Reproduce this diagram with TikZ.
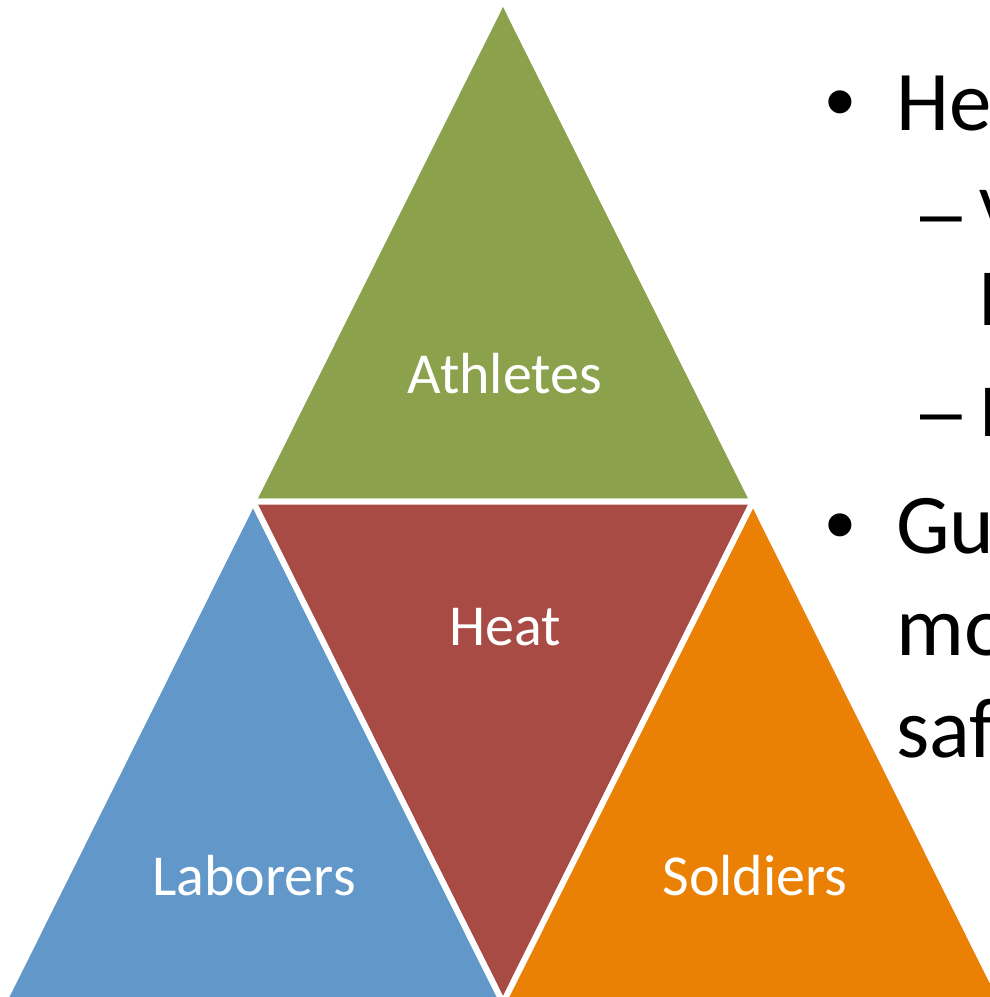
\documentclass[tikz,border=0pt]{standalone}
\usepackage{fontspec}
\setmainfont{Carlito}
\newfontfamily\arialfont{Liberation Sans}
\definecolor{pgreen}{HTML}{8BA14B}
\definecolor{pred}{HTML}{A84B45}
\definecolor{pblue}{HTML}{6297C9}
\definecolor{porange}{HTML}{EB8104}
\begin{document}
\begin{tikzpicture}[x=1pt,y=-1pt,
  seg/.style={draw=white,line width=6pt,line join=miter},
  lbl/.style={text=white,font=\fontsize{58}{70}\selectfont,anchor=base,inner sep=0pt},
  bodytxt/.style={font=\fontsize{85}{102}\selectfont,anchor=base west,inner sep=0pt},
  subtxt/.style={font=\fontsize{75}{90}\selectfont,anchor=base west,inner sep=0pt},
  bul/.style={font=\arialfont\fontsize{85}{102}\selectfont,anchor=base,inner sep=0pt},
  subbul/.style={font=\arialfont\fontsize{75}{90}\selectfont,anchor=base west,inner sep=0pt}]
\useasboundingbox (0,0) rectangle (990,997);
\clip (0,0) rectangle (990,997);
\fill[white] (0,0) rectangle (990,997);
\coordinate (A) at (503,0);
\coordinate (L) at (253,501.5);
\coordinate (R) at (753,501.5);
\coordinate (BL) at (3,1003);
\coordinate (BM) at (503,1003);
\coordinate (BR) at (1003,1003);
\filldraw[seg,fill=pgreen] (A) -- (R) -- (L) -- cycle;
\filldraw[seg,fill=pred] (L) -- (R) -- (BM) -- cycle;
\filldraw[seg,fill=pblue] (L) -- (BM) -- (BL) -- cycle;
\filldraw[seg,fill=porange] (R) -- (BR) -- (BM) -- cycle;
\node[lbl] (athletes) at (505,393) {Athletes};
\node[lbl] (heat) at (505,645) {Heat};
\node[lbl] (laborers) at (254,895) {Laborers};
\node[lbl] (soldiers) at (755,895) {Soldiers};
% right-hand text (clipped at the picture edge)
\node[bul] (b1) at (840,130) {•};
\node[bodytxt] (t1) at (896,130) {He};
\node[subbul] (d1) at (920,238) {–};
\node[subtxt] (s1) at (979,238) {V};
\node[subtxt] (s2) at (979,325) {l};
\node[subbul] (d2) at (920,436) {–};
\node[subtxt] (s3) at (979,436) {I};
\node[bul] (b2) at (840,553) {•};
\node[bodytxt] (t2) at (896,553) {Gu};
\node[bodytxt] (t3) at (896,655) {mo};
\node[bodytxt] (t4) at (896,757) {saf};
\end{tikzpicture}
\end{document}
